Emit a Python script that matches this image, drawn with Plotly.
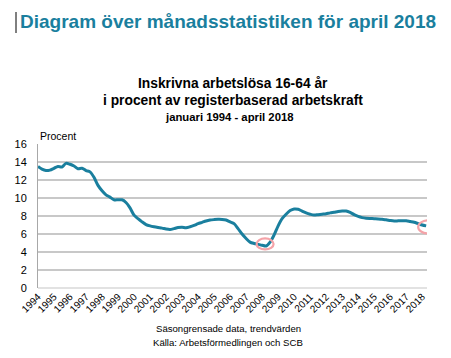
import plotly.graph_objects as go

# Quarterly readings (month start) of the trend series, percent
dates = [
    "1994-01", "1994-04", "1994-07", "1994-10",
    "1995-01", "1995-04", "1995-07", "1995-10",
    "1996-01", "1996-04", "1996-07", "1996-10",
    "1997-01", "1997-04", "1997-07", "1997-10",
    "1998-01", "1998-04", "1998-07", "1998-10",
    "1999-01", "1999-04", "1999-07", "1999-10",
    "2000-01", "2000-04", "2000-07", "2000-10",
    "2001-01", "2001-04", "2001-07", "2001-10",
    "2002-01", "2002-04", "2002-07", "2002-10",
    "2003-01", "2003-04", "2003-07", "2003-10",
    "2004-01", "2004-04", "2004-07", "2004-10",
    "2005-01", "2005-04", "2005-07", "2005-10",
    "2006-01", "2006-04", "2006-07", "2006-10",
    "2007-01", "2007-04", "2007-07", "2007-10",
    "2008-01", "2008-04", "2008-07", "2008-10",
    "2009-01", "2009-04", "2009-07", "2009-10",
    "2010-01", "2010-04", "2010-07", "2010-10",
    "2011-01", "2011-04", "2011-07", "2011-10",
    "2012-01", "2012-04", "2012-07", "2012-10",
    "2013-01", "2013-04", "2013-07", "2013-10",
    "2014-01", "2014-04", "2014-07", "2014-10",
    "2015-01", "2015-04", "2015-07", "2015-10",
    "2016-01", "2016-04", "2016-07", "2016-10",
    "2017-01", "2017-04", "2017-07", "2017-10",
    "2018-01", "2018-04",
]
procent = [
    13.5, 13.2, 13.05, 13.1,
    13.3, 13.5, 13.45, 13.85,
    13.75, 13.55, 13.25, 13.3,
    13.05, 12.9, 12.3, 11.4,
    10.8, 10.35, 10.1, 9.8,
    9.8, 9.8, 9.5, 8.9,
    8.1, 7.7, 7.35, 7.05,
    6.9, 6.8, 6.72, 6.65,
    6.55, 6.5, 6.6, 6.72,
    6.75, 6.7, 6.8, 6.95,
    7.15, 7.3, 7.45, 7.55,
    7.6, 7.63, 7.62, 7.55,
    7.35, 7.15, 6.6, 6.0,
    5.5, 5.1, 4.95, 4.85,
    4.75, 4.67, 5.1, 5.9,
    6.9, 7.7, 8.2, 8.6,
    8.78, 8.75, 8.55, 8.35,
    8.2, 8.1, 8.15, 8.2,
    8.25, 8.35, 8.42, 8.5,
    8.55, 8.55, 8.4, 8.15,
    7.95, 7.82, 7.75, 7.72,
    7.7, 7.68, 7.63, 7.58,
    7.5, 7.44, 7.46, 7.48,
    7.46, 7.38, 7.3, 7.15,
    7.0, 6.9,
]
years = [str(y) for y in range(1994, 2019)]
y_ticks = [0, 2, 4, 6, 8, 10, 12, 14, 16]

TEAL = "#1a7f9e"
FONT = "Liberation Sans, Arial, sans-serif"
W, H = 451, 358
ML, MR, MT, MB = 38, 24, 144, 70
PW, PH = W - ML - MR, H - MT - MB

fig = go.Figure()
fig.add_trace(go.Scatter(
    x=dates, y=procent, mode="lines",
    line=dict(color=TEAL, width=3, shape="spline", smoothing=0.8),
    hoverinfo="skip", showlegend=False,
))

# Highlight circles at the 2008 low and at the latest value
i_min = procent.index(min(procent))
for (xa, ya, w, h, dx, dy) in [
    (dates[i_min], procent[i_min], 17, 11, -1, 2),
    (dates[-1], procent[-1], 20, 13, 2, -1),
]:
    fig.add_shape(
        type="circle", xref="x", yref="y",
        xsizemode="pixel", ysizemode="pixel",
        xanchor=xa, yanchor=ya,
        x0=dx - w / 2, x1=dx + w / 2, y0=dy - h / 2, y1=dy + h / 2,
        line=dict(color="#f4a3a8", width=2.2),
    )

fig.update_layout(
    width=W, height=H,
    margin=dict(l=ML, r=MR, t=MT, b=MB),
    paper_bgcolor="white", plot_bgcolor="white",
    font=dict(family=FONT, color="#000000"),
    xaxis=dict(
        type="date",
        range=["1994-01-01", "2018-04-20"],
        tickvals=[f"{y}-01-01" for y in years],
        ticktext=years,
        tickangle=-45,
        tickfont=dict(size=10, family=FONT),
        showgrid=False, zeroline=False, showline=False,
        ticks="",
    ),
    yaxis=dict(
        range=[0, 16],
        tickvals=y_ticks,
        tickfont=dict(size=11, family=FONT),
        showgrid=True, gridcolor="#c8c8c8", gridwidth=1.5,
        zeroline=True, zerolinecolor="#e2e2e2", zerolinewidth=1.5,
        showline=True, linecolor="#a8a8a8", linewidth=1,
        ticks="", ticklabelstandoff=8,
    ),
)

# (text, x px, y px, size, colour, anchor)
texts = [
    ("<b>Diagram över månadsstatistiken för april 2018</b>", 18, 22, 19, TEAL, "left"),
    ("<b>Inskrivna arbetslösa 16-64 år</b>", 233, 83, 13.8, "#000000", "center"),
    ("<b>i procent av registerbaserad arbetskraft</b>", 233, 100, 13.8, "#000000", "center"),
    ("<b>januari 1994 - april 2018</b>", 229, 117, 11.3, "#000000", "center"),
    ("Procent", 38, 136, 10.5, "#000000", "left"),
    ("Säsongrensade data, trendvärden", 228, 328, 9.6, "#000000", "center"),
    ("Källa: Arbetsförmedlingen och SCB", 228, 342, 9.6, "#000000", "center"),
]
for text, px, py, size, color, anchor in texts:
    fig.add_annotation(
        text=text, xref="paper", yref="paper",
        x=(px - ML) / PW, y=(H - MB - py) / PH,
        xanchor=anchor, yanchor="middle", showarrow=False,
        font=dict(family=FONT, color=color, size=size),
    )

# text cursor mark before the headline
fig.add_shape(type="line", xref="paper", yref="paper",
              x0=(16 - ML) / PW, x1=(16 - ML) / PW,
              y0=(H - MB - 12) / PH, y1=(H - MB - 33) / PH,
              line=dict(color="#000000", width=1))

fig.write_html("out.html",
               config={"displayModeBar": False},
               post_script="document.body.style.margin='0';document.body.style.overflow='hidden';")
